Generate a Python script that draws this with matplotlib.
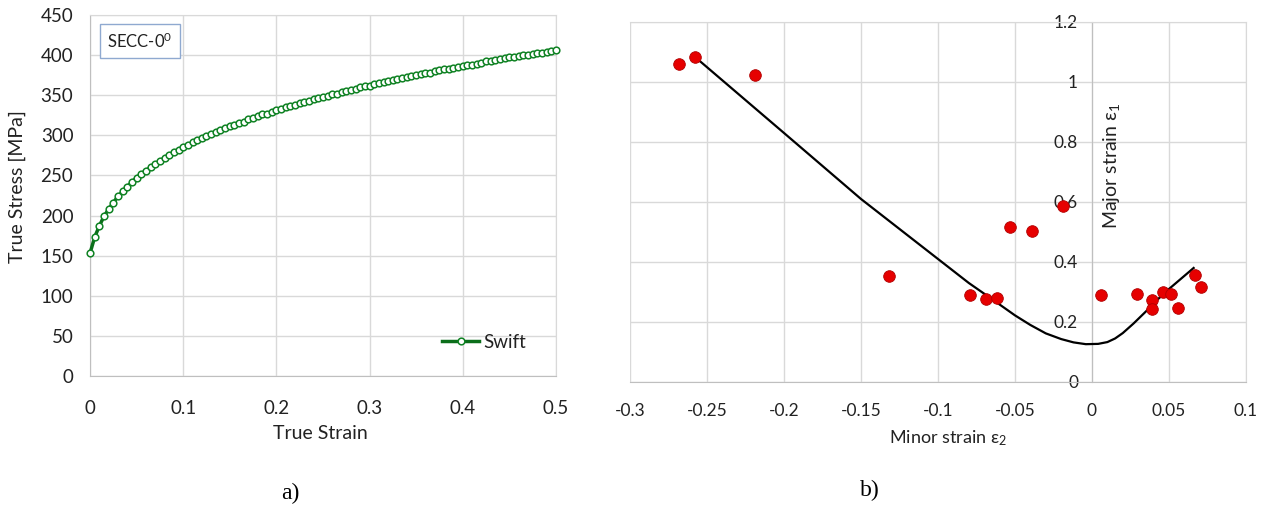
import numpy as np
import matplotlib
matplotlib.use('Agg')
import matplotlib.pyplot as plt
from matplotlib.ticker import FuncFormatter

plt.rcParams['font.family'] = ['Lato', 'DejaVu Sans']
plt.rcParams['mathtext.fontset'] = 'custom'
plt.rcParams['mathtext.rm'] = 'Lato'
plt.rcParams['mathtext.it'] = 'Lato:italic'
plt.rcParams['axes.unicode_minus'] = False

# a) Swift hardening curve, one marker every 0.005 strain
strain_step = 0.005
swift_stress = [
    153, 173, 187, 199, 208, 216, 224, 230, 236, 242,
    247, 252, 256, 260, 264, 268, 272, 275, 279, 282,
    285, 288, 291, 294, 296, 299, 301, 304, 306, 309,
    311, 313, 315, 317, 320, 322, 324, 326, 327, 329,
    331, 333, 335, 336, 338, 340, 341, 343, 345, 346,
    348, 349, 351, 352, 354, 355, 357, 358, 360, 361,
    362, 364, 365, 366, 367, 369, 370, 371, 373, 374,
    375, 376, 377, 378, 380, 381, 382, 383, 384, 385,
    386, 387, 388, 389, 390, 392, 393, 394, 395, 396,
    397, 398, 399, 400, 400, 401, 402, 403, 404, 405,
    406,
]
swift_strain = np.round(np.arange(len(swift_stress)) * strain_step, 3)

# b) forming limit: measured points and fitted curve
minor_pts = [-0.268, -0.258, -0.219, -0.132, -0.079, -0.069, -0.062, -0.053,
             -0.039, -0.019, 0.006, 0.029, 0.039, 0.039, 0.046, 0.051, 0.056,
             0.067, 0.071]
major_pts = [1.061, 1.083, 1.022, 0.352, 0.291, 0.278, 0.281, 0.515,
             0.504, 0.588, 0.289, 0.293, 0.274, 0.244, 0.300, 0.294, 0.245,
             0.358, 0.317]

flc_minor = [-0.257, -0.2, -0.15, -0.1, -0.08, -0.066, -0.05, -0.04, -0.03,
             -0.02, -0.012, -0.004, 0.004, 0.01, 0.015, 0.02, 0.027, 0.035,
             0.042, 0.05, 0.058, 0.066]
flc_major = [1.080, 0.830, 0.610, 0.410, 0.330, 0.280, 0.222, 0.190, 0.162,
             0.143, 0.132, 0.126, 0.127, 0.133, 0.145, 0.163, 0.195, 0.235,
             0.272, 0.310, 0.345, 0.380]

grid_c = '#d9d9d9'
axis_c = '#bfbfbf'

fig = plt.figure(figsize=(12.66, 5.13), dpi=100)
ax1 = fig.add_axes([0.0711, 0.267, 0.368, 0.704])
ax2 = fig.add_axes([0.4976, 0.2554, 0.4866, 0.7018])


def fmt(v, pos):
    return '%g' % (round(v, 3) + 0.0)


# ---- a)
ax1.plot(swift_strain, swift_stress, color='#0b6e1a', lw=2.5, marker='o',
         ms=4.8, mfc='white', mec='#0f8223', mew=1.1, label='Swift', zorder=3,
         clip_on=False)
ax1.set_xlim(0, 0.5)
ax1.set_ylim(0, 450)
ax1.set_xticks(np.arange(0, 0.51, 0.1))
ax1.set_yticks(np.arange(0, 451, 50))
ax1.xaxis.set_major_formatter(FuncFormatter(fmt))
ax1.grid(True, color=grid_c, lw=1)
ax1.set_axisbelow(True)
for s in ['top', 'right']:
    ax1.spines[s].set_color(grid_c)
for s in ['left', 'bottom']:
    ax1.spines[s].set_color(axis_c)
ax1.tick_params(length=0, labelsize=13.5, colors='#222222')
ax1.tick_params(axis='x', pad=17)
ax1.tick_params(axis='y', pad=12)
ax1.set_xlabel('True Strain', fontsize=14, color='#222222')
ax1.xaxis.label.set_va('center')
ax1.xaxis.set_label_coords(0.494, -0.16)
ax1.set_ylabel('True Stress [MPa]', fontsize=14, color='#222222')
ax1.yaxis.label.set_va('center')
ax1.yaxis.set_label_coords(-0.155, 0.525)
ax1.text(0.107, 0.928, 'SECC-0$^{0}$', transform=ax1.transAxes, fontsize=12,
         ha='center', va='center', color='#222222',
         bbox=dict(boxstyle='square,pad=0.45', fc='white', ec='#8fa9d0', lw=1))
leg = ax1.legend(loc='center left', bbox_to_anchor=(0.755, 0.094), frameon=False,
                 fontsize=13.5, borderpad=0, borderaxespad=0, handlelength=2.0,
                 handletextpad=0.2)
for t in leg.get_texts():
    t.set_color('#222222')

# ---- b)
ax2.plot(flc_minor, flc_major, color='black', lw=1.6, zorder=3)
ax2.scatter(minor_pts, major_pts, s=70, color='#e60000', edgecolors='#b00000',
            linewidths=0.6, zorder=4)
ax2.set_xlim(-0.3, 0.1)
ax2.set_ylim(0, 1.2)
ax2.set_xticks(np.arange(-0.3, 0.101, 0.05))
ax2.set_yticks(np.arange(0, 1.21, 0.2))
ax2.xaxis.set_major_formatter(FuncFormatter(fmt))
ax2.yaxis.set_major_formatter(FuncFormatter(fmt))
ax2.grid(True, color=grid_c, lw=1)
ax2.set_axisbelow(True)
ax2.spines['left'].set_position(('data', 0))
ax2.spines['left'].set_color(axis_c)
ax2.spines['bottom'].set_color(axis_c)
for s in ['top', 'right']:
    ax2.spines[s].set_color(grid_c)
ax2.tick_params(length=0, labelsize=12.5, colors='#222222')
ax2.tick_params(axis='x', pad=15)
ax2.tick_params(axis='y', pad=10)
ax2.set_xlabel('Minor strain ε$_2$', fontsize=13, color='#222222')
ax2.xaxis.label.set_va('center')
ax2.xaxis.set_label_coords(0.516, -0.156)
ax2.set_ylabel('Major strain ε$_1$', fontsize=14, color='#222222')
ax2.yaxis.label.set_va('center')
ax2.yaxis.set_label_coords(0.782, 0.6)

fig.text(290 / 1266, 1 - 493 / 513, 'a)', family='Liberation Serif', fontsize=17,
         ha='center', va='center')
fig.text(870 / 1266, 1 - 490 / 513, 'b)', family='Liberation Serif', fontsize=17,
         ha='center', va='center')

fig.savefig('out.png', dpi=100)
